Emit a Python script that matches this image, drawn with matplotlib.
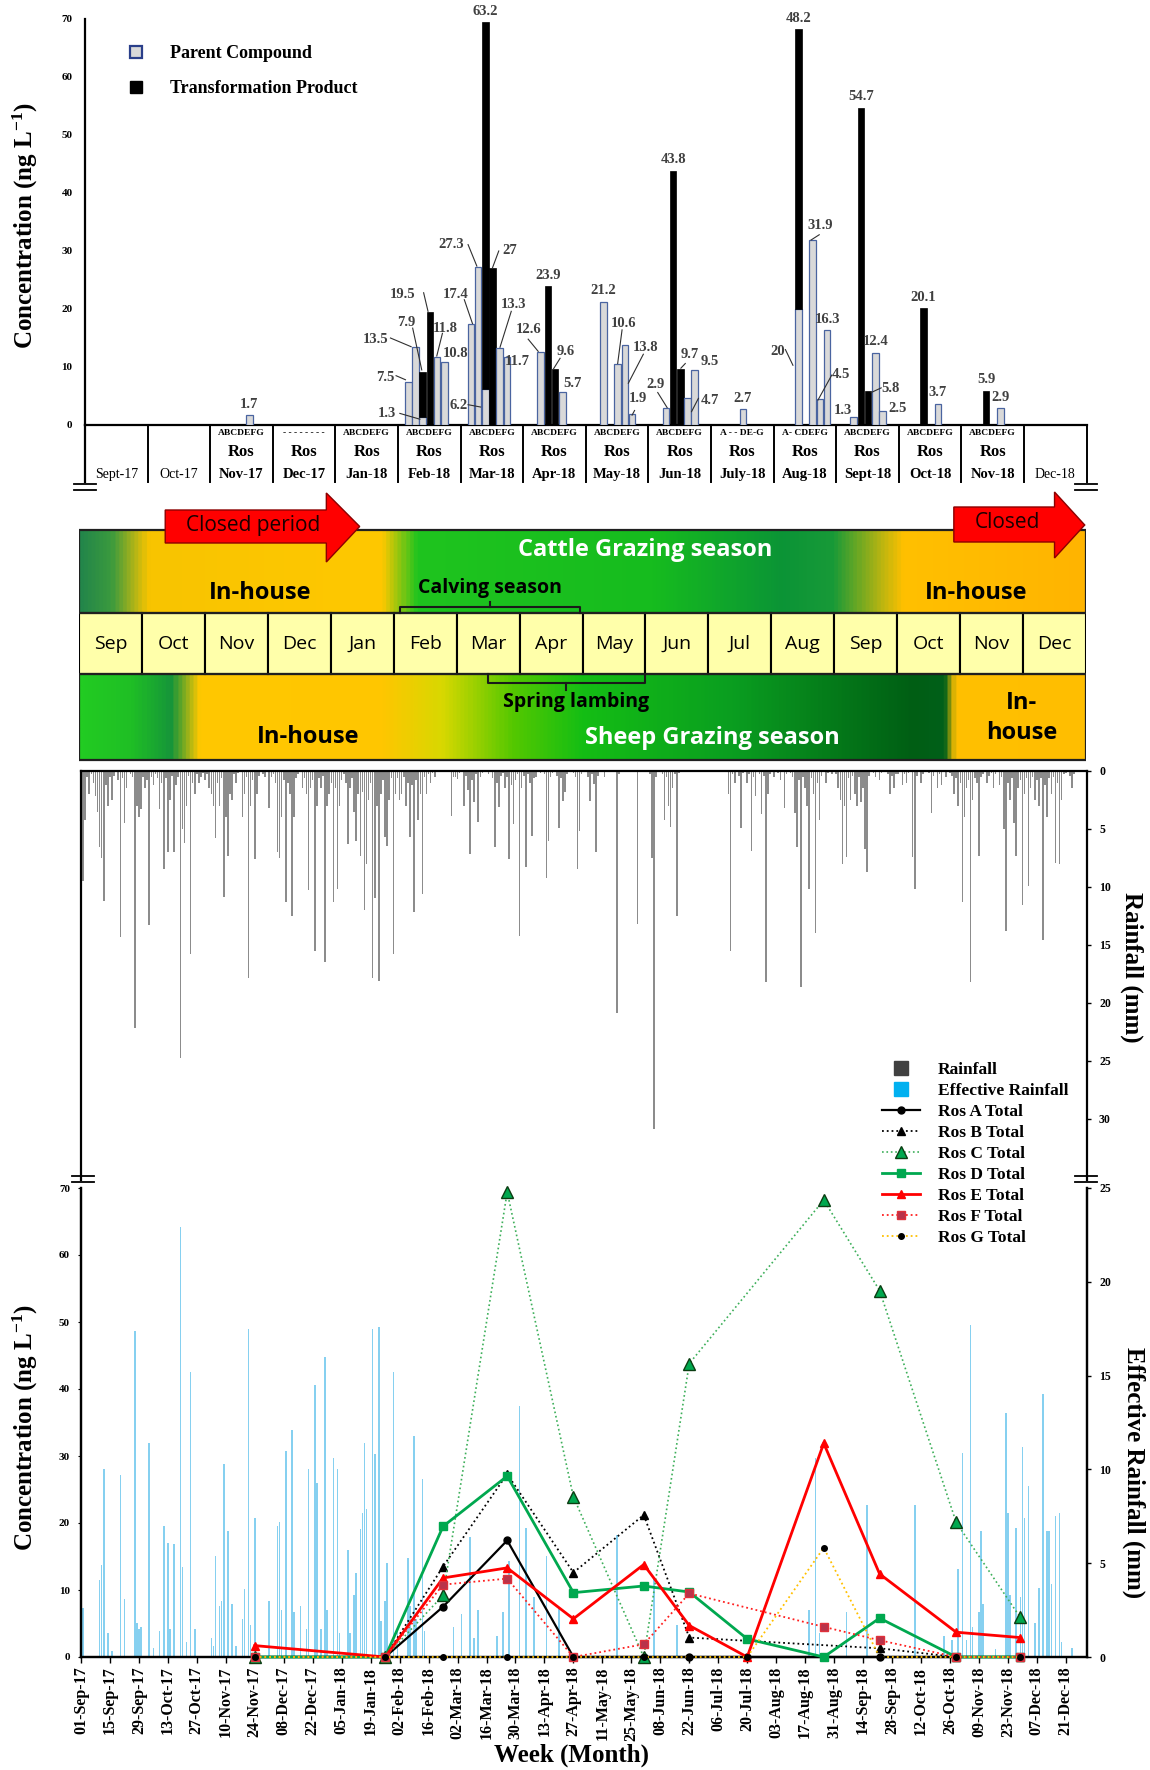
import datetime as dt

import numpy as np
import matplotlib

matplotlib.use("Agg")  # headless
import matplotlib.pyplot as plt
import matplotlib.dates as mdates
from matplotlib.colors import LinearSegmentedColormap
from matplotlib.lines import Line2D
from matplotlib.patches import Rectangle, Polygon

plt.rcParams["font.family"] = ["Liberation Serif", "DejaVu Serif"]
plt.rcParams["font.weight"] = "bold"
plt.rcParams["mathtext.fontset"] = "custom"
plt.rcParams["mathtext.rm"] = "Liberation Serif:bold"
plt.rcParams["mathtext.bf"] = "Liberation Serif:bold"
plt.rcParams["mathtext.default"] = "rm"
DIAG_FONT = ["Liberation Sans Narrow", "Open Sans", "DejaVu Sans"]

# ---------------------------------------------------------------- data
START = dt.date(2017, 9, 1)

# top panel: monthly columns
months_top = ["Sept-17", "Oct-17", "Nov-17", "Dec-17", "Jan-18", "Feb-18", "Mar-18",
              "Apr-18", "May-18", "Jun-18", "July-18", "Aug-18", "Sept-18", "Oct-18",
              "Nov-18", "Dec-18"]
site_row = ["", "", "ABCDEFG", "- - - - - - - -", "ABCDEFG", "ABCDEFG", "ABCDEFG", "ABCDEFG",
            "ABCDEFG", "ABCDEFG", "A - - DE-G", "A- CDEFG", "ABCDEFG", "ABCDEFG",
            "ABCDEFG", ""]
ros_row = ["", "", "Ros", "Ros", "Ros", "Ros", "Ros", "Ros", "Ros", "Ros", "Ros", "Ros",
           "Ros", "Ros", "Ros", ""]
plain_months = ["Sept-17", "Oct-17", "Dec-18"]

# sampling campaigns (column of the top panel, date of the bottom panel)
camp_month = [2, 4, 5, 6, 7, 8, 9, 10, 11, 12, 13, 14]
camp_dates = ["2017-11-24", "2018-01-26", "2018-02-23", "2018-03-26", "2018-04-27",
              "2018-05-31", "2018-06-22", "2018-07-20", "2018-08-26", "2018-09-22",
              "2018-10-29", "2018-11-29"]
sites = ["A", "B", "C", "D", "E", "F", "G"]
nan = float("nan")
parent = {
    "A": [0, 0, 7.5, 17.4, 0, 0, 0, 0, 0, 0, 0, 0],
    "B": [0, 0, 13.5, 27.3, 12.6, 21.2, 2.9, nan, nan, 1.3, 0, 0],
    "C": [0, 0, 1.3, 6.2, 0, 0, 0, nan, 20.0, 0, 0, 0],
    "D": [0, 0, 0, 0, 0, 10.6, 0, 2.7, 0, 0, 0, 0],
    "E": [1.7, 0, 11.8, 13.3, 5.7, 13.8, 4.7, 0, 31.9, 12.4, 3.7, 2.9],
    "F": [0, 0, 10.8, 11.7, 0, 1.9, 9.5, nan, 4.5, 2.5, 0, 0],
    "G": [0, 0, 0, 0, 0, 0, 0, 0, 16.3, 0, 0, 0],
}
tp = {
    "A": [0, 0, 0, 0, 0, 0, 0, 0, 0, 0, 0, 0],
    "B": [0, 0, 0, 0, 0, 0, 0, nan, nan, 0, 0, 0],
    "C": [0, 0, 7.9, 63.2, 23.9, 0, 43.8, nan, 48.2, 54.7, 20.1, 5.9],
    "D": [0, 0, 19.5, 27.0, 9.6, 0, 9.7, 0, 0, 5.8, 0, 0],
    "E": [0, 0, 0, 0, 0, 0, 0, 0, 0, 0, 0, 0],
    "F": [0, 0, 0, 0, 0, 0, 0, nan, 0, 0, 0, 0],
    "G": [0, 0, 0, 0, 0, 0, 0, 0, 0, 0, 0, 0],
}

# daily rainfall (mm), Sep-2017 .. Dec-2018
rain_sep17 = [0, 9.5, 4.2, 0.5, 2.0, 0.3, 1.0, 2.2, 3.5, 6.6, 7.5, 11.2, 1.2, 3.0, 0.5,
              2.5, 0.4, 0, 0.8, 14.3, 0.6, 4.5, 1.5, 0, 0.3, 0.5, 22.2, 3.0, 4.0, 3.3]
rain_oct17 = [0.5, 1.5, 0.8, 13.3, 0.5, 1.2, 0.3, 0.6, 3.3, 1.0, 8.5, 0.6, 7.0, 2.5, 0.4,
              7.0, 1.2, 0.5, 24.8, 5.0, 6.2, 3.0, 0.4, 15.8, 1.0, 2.0, 0.3, 1.0, 0.5, 0.2, 0.8]
rain_nov17 = [0.3, 1.5, 2.0, 3.0, 5.8, 1.0, 3.0, 0.6, 10.9, 4.0, 7.3, 2.0, 2.5, 0.3, 1.0,
              0.2, 0, 4.0, 2.0, 0.5, 17.9, 3.0, 0.8, 7.6, 2.0, 0.4, 0, 0.3, 0.5, 0]
rain_dec17 = [3.2, 0.5, 0.3, 1.0, 7.0, 7.5, 4.0, 0.8, 11.3, 1.0, 2.0, 12.5, 4.0, 0.6, 0.3,
              0, 1.5, 0.6, 2.0, 10.3, 1.5, 0.8, 15.5, 3.0, 0.6, 1.5, 0.4, 16.5, 3.0, 2.0, 1.0]
rain_jan18 = [11.3, 1.5, 10.2, 3.0, 0.8, 0.3, 1.0, 6.3, 1.5, 0.6, 3.5, 6.0, 2.0, 7.3, 1.8,
              12.0, 8.0, 2.5, 1.0, 17.9, 11.0, 3.0, 18.1, 2.0, 0.8, 5.7, 6.5, 2.5, 0.6, 15.8, 2.0]
rain_feb18 = [0.6, 2.5, 2.0, 0.5, 3.0, 1.0, 5.7, 1.2, 12.2, 0.8, 4.2, 2.0, 10.6, 0.5, 2.0,
              0.3, 1.0, 0.2, 0.5, 0, 0, 0, 0, 0, 0, 0, 3.9, 0.5]
rain_mar18 = [0.5, 0.7, 0.2, 0, 3.0, 0.4, 1.6, 7.2, 0.8, 2.7, 0.3, 4.4, 0.5, 0.2, 0,
              0, 0.3, 0, 0.6, 6.6, 1.0, 3.1, 0.4, 0.2, 1.5, 0.5, 7.6, 1.2, 4.6, 0.8, 0.3]
rain_apr18 = [14.2, 1.5, 0.4, 8.3, 0.3, 1.0, 5.6, 0.6, 0.5, 0, 0.2, 0, 0.3, 9.2, 6.0,
              0.5, 0.2, 0, 0.4, 4.9, 0.6, 2.6, 1.8, 0.3, 0, 0, 0.2, 0.5, 8.5, 5.2]
rain_may18 = [0.3, 0, 0, 0.5, 2.6, 0.3, 1.1, 7.0, 0.4, 0, 0, 0.5, 0, 0, 0,
              0, 0, 20.9, 0.3, 0, 0, 0, 0, 0, 0, 0, 0, 13.2, 0, 0, 0]
rain_jun18 = [0, 0, 0.3, 7.5, 30.9, 0.5, 0, 0, 0.3, 4.2, 0.5, 3.0, 4.8, 1.5, 0.3,
              12.5, 0.2, 0, 0, 0, 0, 0, 0, 0, 0, 0, 0, 0, 0, 0]
rain_jul18 = [0, 0, 0, 0, 0, 0, 0, 0, 0, 0, 2.0, 15.5, 0.3, 1.0, 0,
              0.4, 4.9, 0.2, 0, 1.0, 0.3, 6.9, 0.5, 2.2, 0, 0.3, 3.7, 0.4, 18.2, 2.0, 0.3]
rain_aug18 = [0, 0.5, 0, 0.2, 0.8, 0, 3.2, 0.3, 0, 0.2, 0.5, 3.6, 6.6, 0.8, 18.6,
              0.5, 1.5, 3.0, 10.2, 0.6, 2.0, 14.0, 1.0, 4.2, 0.4, 0, 1.0, 0.2, 0, 0.3, 0]
rain_sep18 = [0.3, 1.5, 2.5, 8.0, 3.0, 7.4, 0.6, 2.5, 0.4, 2.0, 3.0, 0.5, 2.7, 1.5, 6.7,
              8.7, 0.4, 0, 0.2, 0.5, 0, 0.8, 0.2, 0, 0, 0.3, 2.0, 0.4, 1.5, 0.3]
rain_oct18 = [0.3, 0, 1.2, 0.3, 1.0, 0.2, 0, 7.4, 10.2, 0.4, 0, 1.0, 0.3, 0, 0,
              0.2, 3.6, 0.4, 0, 1.5, 0.3, 1.2, 0, 0.5, 0, 0.2, 0.4, 2.0, 0.6, 3.0, 1.0]
rain_nov18 = [11.3, 4.0, 1.5, 0.8, 18.2, 2.5, 0.6, 1.0, 7.3, 0.5, 0.3, 0, 1.0, 0.4, 0.2,
              1.5, 0.3, 0, 1.2, 0.5, 5.0, 13.8, 1.0, 2.5, 0.6, 4.5, 7.3, 1.5, 0.8, 11.6]
rain_dec18 = [2.0, 0.6, 9.9, 1.5, 0.5, 2.5, 0.8, 3.0, 0.6, 14.6, 1.2, 4.0, 0.6, 2.0, 0.5,
              7.9, 1.0, 8.0, 2.5, 0.3, 0.2, 0, 0.4, 1.5, 0.3, 0, 0, 0, 0, 0, 0]
rain_mm = (rain_sep17 + rain_oct17 + rain_nov17 + rain_dec17 + rain_jan18 + rain_feb18
           + rain_mar18 + rain_apr18 + rain_may18 + rain_jun18 + rain_jul18 + rain_aug18
           + rain_sep18 + rain_oct18 + rain_nov18 + rain_dec18)

# effective rainfall (mm): day offset from 01-Sep-17, value
eff_day = [0, 1, 9, 10, 11, 13, 15, 19, 21, 26, 27, 28, 29, 33, 35, 38, 40, 42, 43, 45,
           48, 49, 51, 53, 55, 63, 64, 65, 67, 68, 69, 71, 73, 75, 78, 79, 81, 82, 84,
           91, 95, 96, 97, 99, 102, 103, 106, 109, 110, 113, 114, 116, 118, 119, 122,
           124, 125, 129, 130, 132, 133, 135, 136, 137, 138, 141, 142, 144, 145, 147,
           148, 151, 153, 158, 159, 161, 162, 165, 166, 180, 184, 188, 190, 192, 201,
           204, 207, 212, 215, 219, 225, 231, 259, 277, 288, 352, 355, 357, 370, 380,
           403, 417, 421, 424, 426, 428, 430, 431, 434, 435, 436, 442, 447, 448, 449,
           452, 454, 455, 456, 458, 461, 463, 465, 467, 468, 469, 471, 473, 474, 479]
eff_mm = [1.9, 2.6, 4.1, 4.9, 10.0, 1.3, 0.3, 9.7, 3.1, 17.4, 1.8, 1.5, 1.6, 11.4, 0.5,
          1.4, 7.0, 6.1, 1.5, 6.0, 22.9, 4.8, 0.8, 15.2, 1.5, 1.0, 0.6, 5.4, 2.7, 3.0,
          10.3, 6.7, 2.8, 0.6, 2.0, 3.6, 17.5, 1.7, 7.4, 3.0, 7.0, 7.2, 2.5, 11.0, 12.1,
          2.4, 2.7, 1.5, 10.0, 14.5, 9.3, 1.5, 16.0, 2.5, 10.6, 10.0, 1.3, 5.7, 1.3,
          3.3, 4.5, 6.8, 7.7, 11.4, 7.9, 17.5, 10.8, 17.6, 1.9, 3.0, 5.0, 15.2, 1.5,
          5.3, 2.7, 11.8, 2.0, 9.5, 1.4, 1.6, 2.3, 6.4, 1.0, 2.5, 1.1, 2.4, 5.1, 13.4,
          6.9, 3.2, 5.4, 2.6, 6.5, 4.2, 1.7, 2.5, 10.6, 1.3, 2.4, 8.1, 8.1, 1.1, 0.9,
          4.7, 10.9, 0.9, 17.7, 1.6, 2.4, 6.7, 2.8, 0.4, 13.0, 7.7, 3.3, 6.9, 3.2, 11.2,
          7.4, 9.1, 1.8, 3.7, 14.0, 6.7, 6.7, 3.9, 7.5, 7.7, 0.8, 0.5]

# seasonal diagram
months_diag = ["Sep", "Oct", "Nov", "Dec", "Jan", "Feb", "Mar", "Apr", "May", "Jun",
               "Jul", "Aug", "Sep", "Oct", "Nov", "Dec"]

# ---------------------------------------------------------------- styles
W, H = 1150, 1770
PARENT_FC, PARENT_EC = "#D9D9D9", "#4A64A0"
LBL_C = "#404040"
SLOT0, SLOT_STEP, BAR_W = 0.165, 0.115, 0.105

series_style = {
    "A": dict(color="black", ls="-", lw=1.6, marker="o", ms=5, mfc="black", mec="black"),
    "B": dict(color="black", ls=":", lw=1.3, marker="^", ms=6, mfc="black", mec="black"),
    "C": dict(color="#3DAF5A", ls=":", lw=1.2, marker="^", ms=8, mfc="#00A84F", mec="#0B3D12"),
    "D": dict(color="#00A84F", ls="-", lw=2.0, marker="s", ms=6, mfc="#00A84F", mec="#00A84F"),
    "E": dict(color="#FF0000", ls="-", lw=2.0, marker="^", ms=6, mfc="#FF0000", mec="#FF0000"),
    "F": dict(color="#FF2020", ls=":", lw=1.3, marker="s", ms=6, mfc="#B8334A", mec="#E0303A"),
    "G": dict(color="#FFC000", ls=":", lw=1.3, marker="o", ms=4, mfc="black", mec="black"),
}

# label text position (group-relative x, y) and optional leader line
label_pos = {
    ("Feb-18", "A", "p"): ((-0.21, 8.2), ((-0.03, 8.5), (0.12, 7.8))),
    ("Feb-18", "B", "p"): ((-0.35, 14.8), ((-0.12, 15.0), (0.21, 13.5))),
    ("Feb-18", "C", "t"): ((0.13, 17.6), ((0.235, 16.7), (0.38, 9.5))),
    ("Feb-18", "C", "p"): ((-0.18, 1.9), ((0.03, 2.0), (0.35, 1.0))),
    ("Feb-18", "D", "t"): ((0.08, 22.5), ((0.41, 22.8), (0.48, 19.6))),
    ("Feb-18", "E", "p"): ((0.76, 16.7), ((0.71, 15.8), (0.62, 11.9))),
    ("Feb-18", "F", "p"): ((0.92, 12.3), None),
    ("Mar-18", "A", "p"): ((-0.08, 22.5), ((0.06, 21.6), (0.19, 17.5))),
    ("Mar-18", "B", "p"): ((-0.15, 31.1), ((0.12, 31.1), (0.26, 27.4))),
    ("Mar-18", "C", "p"): ((-0.03, 3.3), ((0.12, 3.5), (0.32, 3.1))),
    ("Mar-18", "D", "t"): ((0.79, 30.1), ((0.61, 30.0), (0.51, 27.1))),
    ("Mar-18", "E", "p"): ((0.85, 20.7), ((0.81, 19.6), (0.63, 13.4))),
    ("Mar-18", "F", "p"): ((0.90, 10.9), None),
    ("Apr-18", "B", "p"): ((0.08, 16.5), ((0.08, 14.8), (0.24, 12.7))),
    ("Apr-18", "D", "t"): ((0.68, 12.7), ((0.59, 11.5), (0.48, 9.6))),
    ("Apr-18", "E", "p"): ((0.79, 7.1), None),
    ("May-18", "D", "p"): ((0.60, 17.5), ((0.58, 16.4), (0.51, 10.6))),
    ("May-18", "E", "p"): ((0.96, 13.3), ((0.92, 12.2), (0.68, 7.2))),
    ("May-18", "F", "p"): ((0.84, 4.6), ((0.78, 2.5), (0.74, 1.7))),
    ("Jun-18", "B", "p"): ((0.12, 7.0), ((0.15, 5.6), (0.30, 3.0))),
    ("Jun-18", "D", "t"): ((0.66, 12.2), ((0.59, 10.6), (0.52, 9.8))),
    ("Jun-18", "E", "p"): ((0.98, 4.3), ((0.80, 4.6), (0.69, 2.3))),
    ("Jun-18", "F", "p"): ((0.98, 11.0), None),
    ("Aug-18", "C", "p"): ((0.06, 12.6), ((0.19, 13.0), (0.31, 10.3))),
    ("Aug-18", "E", "p"): ((0.75, 34.4), ((0.73, 32.8), (0.60, 31.9))),
    ("Aug-18", "F", "p"): ((1.08, 8.7), ((0.93, 8.6), (0.71, 4.3))),
    ("Sept-18", "B", "p"): ((0.11, 2.5), None),
    ("Sept-18", "D", "t"): ((0.87, 6.3), ((0.72, 6.4), (0.56, 5.6))),
    ("Sept-18", "F", "p"): ((0.98, 2.9), None),
}

cattle_cmap = LinearSegmentedColormap.from_list("cattle", [
    (0.0, "#23864A"), (0.03, "#3A9A3E"), (0.067, "#F8C400"), (0.30, "#FFC800"),
    (0.335, "#1FC41F"), (0.57, "#16BC1E"), (0.70, "#0B9436"), (0.75, "#189A38"),
    (0.82, "#FFC000"), (1.0, "#FFB400")])
sheep_cmap = LinearSegmentedColormap.from_list("sheep", [
    (0.0, "#22CC22"), (0.05, "#1FBF25"), (0.09, "#16953A"), (0.118, "#FFC800"),
    (0.30, "#FFC600"), (0.36, "#D8D800"), (0.43, "#55C800"), (0.50, "#14BE14"),
    (0.65, "#0A9E20"), (0.83, "#005E14"), (0.862, "#00601A"), (0.872, "#FFC000"),
    (1.0, "#FFBE00")])


def fig_rect(x0, y0, x1, y1):
    """pixel box (top-left origin) -> figure fraction rect"""
    return [x0 / W, 1 - y1 / H, (x1 - x0) / W, (y1 - y0) / H]


def brk(fig, xp, yp):
    for dy in (-3, 3):
        fig.add_artist(Line2D([(xp - 11) / W, (xp + 11) / W], [1 - (yp + dy) / H] * 2,
                              transform=fig.transFigure, color="black", lw=1.3))


fig = plt.figure(figsize=(W / 100, H / 100), dpi=100)

# ---------------------------------------------------------------- top bars
ax = fig.add_axes(fig_rect(85, 19, 1086.5, 425))
ax.set_xlim(0, 16)
ax.set_ylim(0, 70)
for sp in ("top", "right"):
    ax.spines[sp].set_visible(False)
ax.spines["left"].set_linewidth(1.6)
ax.spines["bottom"].set_linewidth(1.6)
ax.set_xticks([])
ax.set_yticks(range(0, 71, 10))
ax.tick_params(axis="y", length=0, pad=9, labelsize=8)

for si, s in enumerate(sites):
    off = SLOT0 + si * SLOT_STEP
    for ci, mi in enumerate(camp_month):
        p = np.nan_to_num(parent[s][ci])
        t = np.nan_to_num(tp[s][ci])
        xc = mi + off
        if p > 0:
            ax.bar(xc, p, width=BAR_W, color=PARENT_FC, edgecolor=PARENT_EC, lw=0.9, zorder=3)
        if t > 0:
            ax.bar(xc, t, bottom=p, width=BAR_W, color="black", edgecolor="black", lw=0.5, zorder=3)
        for kind, val, top in (("p", p, p), ("t", t, p + t)):
            if val <= 0:
                continue
            key = (months_top[mi], s, kind)
            if key in label_pos:
                (tx, ty), line = label_pos[key]
                ax.text(mi + tx, ty, f"{val:g}", ha="center", va="center", fontsize=10.5,
                        color=LBL_C, clip_on=False, zorder=5)
                if line:
                    (lx0, ly0), (lx1, ly1) = line
                    ax.plot([mi + lx0, mi + lx1], [ly0, ly1], color="#303030", lw=0.8,
                            clip_on=False, zorder=5)
            else:
                ax.text(xc, top + 0.8, f"{val:g}", ha="center", va="bottom", fontsize=10.5,
                        color=LBL_C, clip_on=False, zorder=5)

# table under the axis
for b in range(17):
    ax.plot([b, b], [0, -9.8], color="black", lw=1.4 if b else 1.6, clip_on=False)
for mi, name in enumerate(months_top):
    xc = mi + 0.5
    ax.text(xc, -1.45, site_row[mi], ha="center", va="center", fontsize=6.8, clip_on=False)
    ax.text(xc, -4.7, ros_row[mi], ha="center", va="center", fontsize=12, clip_on=False)
    plain = name in plain_months
    ax.text(xc, -8.5, name, ha="center", va="center", fontsize=10.5 if not plain else 10,
            fontweight="normal" if plain else "bold", clip_on=False)

top_handles = [
    Line2D([], [], ls="none", marker="s", ms=8, mfc=PARENT_FC, mec="#2A3F8A", mew=1.6),
    Line2D([], [], ls="none", marker="s", ms=8, mfc="black", mec="black"),
]
ax.legend(top_handles, ["Parent Compound", "Transformation Product"], loc="upper left",
          bbox_to_anchor=(125 / W, 1 - 45 / H), bbox_transform=fig.transFigure,
          frameon=False, fontsize=13, handlelength=1.2, handletextpad=1.3,
          labelspacing=1.0, borderpad=0, borderaxespad=0)
fig.text(25 / W, 1 - 226 / H, "Concentration (ng L$^{-1}$)", rotation=90,
         ha="center", va="center", fontsize=18)
brk(fig, 85, 487)
brk(fig, 1086, 487)

# ---------------------------------------------------------------- seasonal diagram
axd = fig.add_axes(fig_rect(79, 488, 1086, 762))
axd.set_xlim(0, 16)
axd.set_ylim(0, 274)
axd.axis("off")
grad = np.linspace(0, 1, 800)
axd.imshow(cattle_cmap(grad)[None, :, :3], extent=(0, 16, 149, 232), aspect="auto",
           interpolation="bilinear", zorder=1)
axd.imshow(sheep_cmap(grad)[None, :, :3], extent=(0, 16, 2, 88), aspect="auto",
           interpolation="bilinear", zorder=1)
axd.add_patch(Rectangle((0, 149), 16, 83, fill=False, ec="#202020", lw=1.6, zorder=3))
axd.add_patch(Rectangle((0, 2), 16, 86, fill=False, ec="#202020", lw=1.6, zorder=3))
for i, m in enumerate(months_diag):
    axd.add_patch(Rectangle((i, 88), 1, 61, fc="#FFFFAA", ec="black", lw=1.5, zorder=2))
    axd.text(i + 0.5, 118, m, ha="center", va="center", fontsize=14,
             family=DIAG_FONT, fontweight="normal", zorder=4)

arrow_closed = [(1.37, 219), (3.93, 219), (3.93, 200), (4.46, 235.5), (3.93, 269),
                (3.93, 252), (1.37, 252)]
arrow_closed2 = [(13.9, 220), (15.5, 220), (15.5, 204), (15.98, 237), (15.5, 270),
                 (15.5, 255), (13.9, 255)]
for pts in (arrow_closed, arrow_closed2):
    axd.add_patch(Polygon(pts, closed=True, fc="#FF0000", ec="#8B0000", lw=1.0,
                          zorder=5, clip_on=False))
axd.text(2.77, 237, "Closed period", ha="center", va="center", fontsize=15,
         family=DIAG_FONT, fontweight="normal", color="#1A0000", zorder=6)
axd.text(14.75, 240, "Closed", ha="center", va="center", fontsize=15,
         family=DIAG_FONT, fontweight="normal", color="#1A0000", zorder=6)

axd.text(9.0, 212, "Cattle Grazing season", ha="center", va="center", fontsize=17,
         family=DIAG_FONT, color="white", zorder=4)
axd.text(2.88, 169, "In-house", ha="center", va="center", fontsize=17,
         family=DIAG_FONT, color="black", zorder=4)
axd.text(14.26, 169, "In-house", ha="center", va="center", fontsize=17,
         family=DIAG_FONT, color="black", zorder=4)
axd.text(6.53, 174, "Calving season", ha="center", va="center", fontsize=14,
         family=DIAG_FONT, color="black", zorder=4)
axd.plot([5.1, 5.1, 7.96, 7.96], [149, 155.5, 155.5, 149], color="#1a1a1a", lw=1.5, zorder=4)
axd.plot([6.53, 6.53], [155.5, 160.5], color="#1a1a1a", lw=1.5, zorder=4)

axd.text(7.9, 60, "Spring lambing", ha="center", va="center", fontsize=14,
         family=DIAG_FONT, color="black", zorder=4)
axd.plot([6.5, 6.5, 9.0, 9.0], [88, 79, 79, 88], color="#1a1a1a", lw=1.5, zorder=4)
axd.plot([7.74, 7.74], [79, 72], color="#1a1a1a", lw=1.5, zorder=4)
axd.text(3.64, 25, "In-house", ha="center", va="center", fontsize=17,
         family=DIAG_FONT, color="black", zorder=4)
axd.text(10.06, 24, "Sheep Grazing season", ha="center", va="center", fontsize=17,
         family=DIAG_FONT, color="white", zorder=4)
axd.text(14.98, 44, "In-\nhouse", ha="center", va="center", fontsize=17,
         family=DIAG_FONT, color="black", linespacing=1.35, zorder=4)

# ---------------------------------------------------------------- rainfall (inverted)
x0 = mdates.date2num(START)
x1 = mdates.date2num(dt.date(2018, 12, 31))
rain_x = [mdates.date2num(START + dt.timedelta(days=i)) for i in range(len(rain_mm))]
axr = fig.add_axes(fig_rect(81, 771, 1086.5, 1180))
axr.bar(rain_x, rain_mm, width=0.75, color="#8C8C8C", lw=0)
axr.set_xlim(x0, x1)
axr.set_ylim(35.3, 0)
axr.spines["bottom"].set_visible(False)
for sp in ("left", "top", "right"):
    axr.spines[sp].set_linewidth(1.6)
axr.set_xticks([])
axr.yaxis.tick_right()
axr.set_yticks(range(0, 31, 5))
axr.tick_params(axis="y", length=3, width=1, labelsize=8.5, pad=6)
fig.text(1132 / W, 1 - 967 / H, "Rainfall (mm)", rotation=270, ha="center", va="center",
         fontsize=18)
brk(fig, 83, 1179)
brk(fig, 1086, 1179)

# ---------------------------------------------------------------- bottom concentrations
axb = fig.add_axes(fig_rect(81, 1188, 1086.5, 1657))
axe = axb.twinx()
eff_x = [mdates.date2num(START + dt.timedelta(days=d)) for d in eff_day]
axe.bar(eff_x, eff_mm, width=0.75, color="#86D0F0", lw=0)
axe.set_ylim(0, 25)
axe.set_yticks(range(0, 26, 5))
axe.tick_params(axis="y", length=3, width=1, labelsize=8.5, pad=6)
axb.set_zorder(axe.get_zorder() + 1)
axb.patch.set_visible(False)

cx = [mdates.date2num(dt.date.fromisoformat(d)) for d in camp_dates]
lines = {}
for s in sites:
    tot = np.array(parent[s], float) + np.array(tp[s], float)
    ok = ~np.isnan(tot)
    (ln,) = axb.plot(np.array(cx)[ok], tot[ok], clip_on=False, zorder=3, **series_style[s])
    lines[s] = ln

axb.set_xlim(x0, x1)
axb.set_ylim(0, 70)
axe.set_xlim(x0, x1)
axb.set_yticks(range(0, 71, 10))
axb.tick_params(axis="y", length=2, labelsize=8, pad=6)
for a in (axb, axe):
    a.spines["top"].set_visible(False)
    for sp in ("left", "right", "bottom"):
        a.spines[sp].set_linewidth(1.6)
ticks = [x0 + 14 * k for k in range(35)]
axb.set_xticks(ticks)
axb.set_xticklabels([mdates.num2date(t).strftime("%d-%b-%y") for t in ticks],
                    rotation=90, fontsize=11.5)
axb.tick_params(axis="x", length=4, width=1, pad=3)
fig.text(25 / W, 1 - 1428 / H, "Concentration (ng L$^{-1}$)", rotation=90,
         ha="center", va="center", fontsize=18)
fig.text(1134 / W, 1 - 1473 / H, "Effective Rainfall (mm)", rotation=270, ha="center",
         va="center", fontsize=18)
fig.text(572 / W, 1 - 1755 / H, "Week (Month)", ha="center", va="center", fontsize=18)

leg_handles = [
    Line2D([], [], ls="none", marker="s", ms=10, color="#404040"),
    Line2D([], [], ls="none", marker="s", ms=10, color="#00B0F0"),
] + [lines[s] for s in sites]
leg_labels = ["Rainfall", "Effective Rainfall"] + [f"Ros {s} Total" for s in sites]
fig.legend(leg_handles, leg_labels, loc="upper left", bbox_to_anchor=(882 / W, 1 - 1062 / H),
           frameon=False, fontsize=12.5, handlelength=2.2, handletextpad=1.0,
           labelspacing=0.28, borderpad=0, borderaxespad=0)

fig.savefig("out.png", dpi=100)
